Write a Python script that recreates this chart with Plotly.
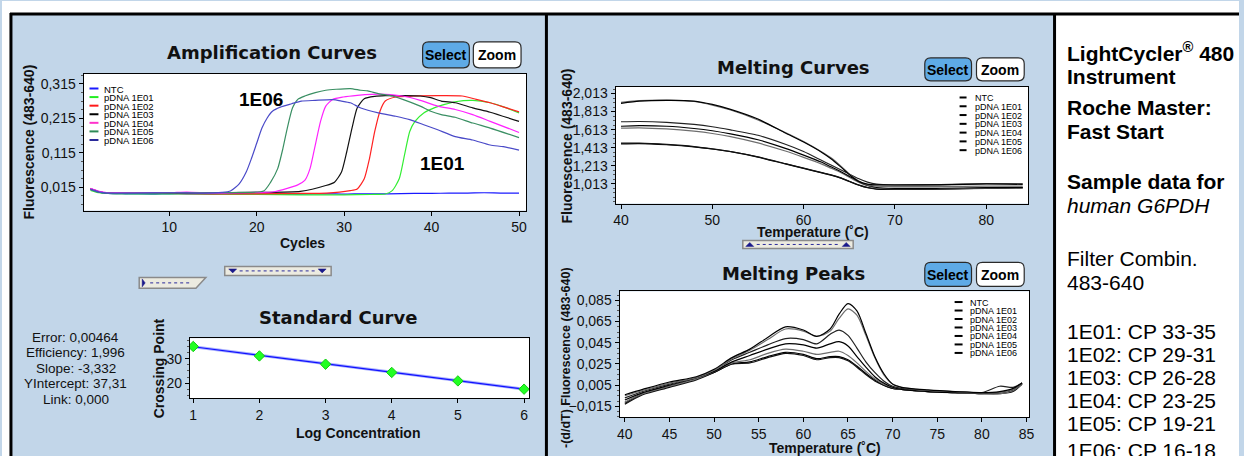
import plotly.graph_objects as go

W, H = 1244, 456

# ---------------- DATA ----------------
series_names = ["NTC", "pDNA 1E01", "pDNA 1E02", "pDNA 1E03", "pDNA 1E04", "pDNA 1E05", "pDNA 1E06"]
amp_colors = ["#1a1aff", "#22ee22", "#ff1a1a", "#000000", "#ff33cc", "#2e8b57", "#2a2a9a"]
amp_line_colors = ["#1a1aff", "#33ee33", "#ff2222", "#111111", "#ff22ff", "#3a8f63", "#4a4ac8"]

# Amplification curves (cycle, fluorescence)
amp_ntc_x = [1, 2, 3, 5, 8, 10, 12, 15, 18, 20, 22, 25, 28, 30, 32, 35, 38, 40, 42, 44, 46, 48, 50]
amp_ntc_y = [0.010, 0.001, -0.003, -0.004, -0.005, -0.004, -0.004, -0.005, -0.004, -0.005, -0.005,
             -0.005, -0.004, -0.005, -0.004, -0.004, -0.003, -0.003, -0.002, -0.002, -0.001, -0.002, -0.002]
amp_1e01_x = [1, 2, 3, 6, 10, 15, 20, 25, 30, 33, 34.7, 35.5, 36.3, 36.9, 37.5, 38.1, 39.1, 40.3, 41.5, 42.7, 44.7, 46.7, 48.3, 50]
amp_1e01_y = [0.006, -0.001, -0.003, -0.004, -0.004, -0.005, -0.006, -0.007, -0.007, -0.006, -0.0046, 0.0052,
              0.0395, 0.1081, 0.1768, 0.2062, 0.2307, 0.2454, 0.2552, 0.263, 0.267, 0.2601, 0.2474, 0.2307]
amp_1e02_x = [1, 2, 3, 6, 10, 15, 20, 25, 28, 30.7, 31.5, 32.3, 32.9, 33.5, 34.1, 34.7, 35.9, 37.9, 40.7, 43.5, 45.1, 46.7, 48.3, 50]
amp_1e02_y = [0.010, 0.002, -0.002, -0.003, -0.003, -0.004, -0.004, -0.003, -0.002, 0.0052, 0.0101, 0.0395,
              0.0983, 0.1768, 0.2356, 0.265, 0.2768, 0.2797, 0.2807, 0.2797, 0.27, 0.2601, 0.2474, 0.2336]
amp_1e03_x = [1, 2, 3, 6, 10, 15, 20, 25, 27.9, 28.9, 29.7, 30.3, 30.9, 31.5, 32.3, 33.5, 34.7, 36.7, 38.7, 39.9, 41.1, 42.7, 44.7, 46.7, 50]
amp_1e03_y = [0.011, 0.002, -0.002, -0.002, -0.002, -0.001, 0.000, 0.003, 0.0199, 0.0297, 0.0591, 0.118,
              0.1866, 0.2454, 0.2719, 0.2787, 0.2807, 0.2807, 0.2797, 0.2748, 0.265, 0.2601, 0.2454, 0.2326, 0.2062]
amp_1e04_x = [1, 2, 3, 6, 10, 12, 15, 20, 22, 24.7, 25.5, 26.1, 26.7, 27.3, 27.9, 28.7, 29.9, 31.5, 33.1, 34.7,
              36.7, 38.7, 40.7, 42.7, 44.7, 46.7, 50]
amp_1e04_y = [0.012, 0.003, -0.001, -0.001, -0.001, 0.001, -0.002, 0.000, 0.002, 0.0219, 0.0346, 0.0689,
              0.1375, 0.2062, 0.2503, 0.27, 0.2768, 0.2817, 0.2846, 0.2846, 0.2797, 0.267, 0.2503, 0.2405,
              0.2258, 0.2062, 0.1738]
amp_1e05_x = [1, 2, 3, 6, 10, 15, 18, 20.8, 21.6, 22.4, 23.0, 23.5, 24.1, 24.7, 25.5, 26.7, 27.9, 29.1, 30.7,
              31.9, 32.7, 33.9, 35.5, 36.7, 38.7, 39.9, 41.1, 42.7, 44.7, 46.7, 50]
amp_1e05_y = [0.008, 0.000, -0.003, -0.003, -0.002, -0.001, 0.000, 0.004, 0.0297, 0.0689, 0.1277, 0.1866,
              0.2454, 0.27, 0.2797, 0.2895, 0.2964, 0.2993, 0.3013, 0.2964, 0.2944, 0.2866, 0.2797, 0.27,
              0.2503, 0.2356, 0.2258, 0.218, 0.2013, 0.1866, 0.1591]
amp_1e06_x = [1, 2, 3, 6, 10, 14, 16, 17.0, 18.0, 18.8, 19.4, 20.0, 20.6, 21.2, 21.8, 22.7, 24.0, 25.1, 26.7,
              28.7, 29.7, 30.7, 31.9, 33.9, 35.9, 37.5, 39.1, 40.7, 42.7, 44.7, 46.7, 48.2, 50]
amp_1e06_y = [0.009, 0.001, -0.002, -0.002, -0.001, -0.002, 0.000, 0.004, 0.0248, 0.0591, 0.0983, 0.1425,
              0.1866, 0.216, 0.2356, 0.2474, 0.2572, 0.265, 0.267, 0.269, 0.265, 0.260, 0.245, 0.2307,
              0.2209, 0.211, 0.1964, 0.1817, 0.162, 0.152, 0.1375, 0.1326, 0.1228]

# Standard curve
log_conc = [1, 2, 3, 4, 5, 6]
crossing_point = [35.1, 31.2, 27.8, 24.4, 20.9, 17.5]
fit_x = [1, 6]
fit_y = [35.0, 17.5]
std_stats = ["Error: 0,00464", "Efficiency: 1,996", "Slope: -3,332", "YIntercept: 37,31", "Link: 0,000"]

# Melting curves (temperature, fluorescence)
melt_t = [40, 42, 45, 48, 50, 52, 55, 58, 60, 62, 63, 64, 65, 66, 67, 68, 70, 75, 80, 84]
melt_ntc = [1.455, 1.458, 1.445, 1.422, 1.398, 1.368, 1.308, 1.232, 1.182, 1.132, 1.107, 1.077, 1.037, 0.998, 0.968, 0.953, 0.948, 0.953, 0.960, 0.966]
melt_1e01 = [1.462, 1.462, 1.448, 1.425, 1.400, 1.370, 1.310, 1.235, 1.185, 1.135, 1.110, 1.080, 1.040, 1.000, 0.970, 0.955, 0.950, 0.955, 0.962, 0.968]
melt_1e02 = [1.630, 1.633, 1.620, 1.595, 1.570, 1.535, 1.465, 1.375, 1.305, 1.230, 1.185, 1.140, 1.085, 1.030, 0.990, 0.965, 0.957, 0.958, 0.963, 0.968]
melt_1e03 = [1.650, 1.657, 1.650, 1.625, 1.600, 1.565, 1.500, 1.405, 1.330, 1.250, 1.200, 1.150, 1.095, 1.040, 0.995, 0.970, 0.960, 0.962, 0.968, 0.972]
melt_1e04 = [1.700, 1.703, 1.693, 1.670, 1.645, 1.610, 1.550, 1.450, 1.370, 1.270, 1.220, 1.170, 1.120, 1.070, 1.030, 1.008, 1.000, 1.002, 1.012, 1.012]
melt_1e05 = [1.915, 1.935, 1.940, 1.925, 1.885, 1.830, 1.720, 1.580, 1.480, 1.365, 1.300, 1.215, 1.120, 1.045, 1.000, 0.985, 0.980, 0.980, 0.985, 0.985]
melt_1e06 = [1.905, 1.928, 1.937, 1.930, 1.893, 1.838, 1.730, 1.575, 1.475, 1.360, 1.290, 1.205, 1.115, 1.040, 1.008, 1.000, 0.998, 1.000, 1.010, 1.005]

# Melting peaks (temperature, -d/dT)
peak_t = [40, 42, 45, 48, 50, 52, 54, 56, 58, 60, 61.5, 63, 64, 65, 66, 67, 68, 69, 70, 71, 74, 77, 80, 82, 83.5, 84.5]
peak_ntc = [-0.012, -0.003, 0.004, 0.011, 0.017, 0.025, 0.027, 0.032, 0.036, 0.034, 0.030, 0.032, 0.032, 0.029, 0.023, 0.016, 0.010, 0.005, 0.002, 0.001, -0.001, -0.002, -0.003, -0.002, 0.000, 0.006]
peak_1e01 = [-0.013, -0.004, 0.003, 0.010, 0.017, 0.025, 0.026, 0.031, 0.035, 0.033, 0.029, 0.031, 0.031, 0.028, 0.022, 0.015, 0.009, 0.005, 0.002, 0.001, -0.001, -0.002, -0.003, -0.003, -0.001, 0.006]
peak_1e02 = [-0.011, -0.003, 0.004, 0.011, 0.018, 0.026, 0.029, 0.035, 0.039, 0.037, 0.034, 0.036, 0.037, 0.033, 0.026, 0.018, 0.011, 0.006, 0.003, 0.001, -0.001, -0.002, -0.003, -0.003, 0.000, 0.006]
peak_1e03 = [-0.009, -0.002, 0.005, 0.012, 0.018, 0.027, 0.033, 0.039, 0.044, 0.043, 0.040, 0.044, 0.046, 0.042, 0.032, 0.022, 0.013, 0.007, 0.003, 0.001, -0.001, -0.002, -0.002, -0.002, 0.001, 0.007]
peak_1e04 = [-0.007, -0.001, 0.006, 0.012, 0.019, 0.029, 0.036, 0.043, 0.049, 0.048, 0.044, 0.053, 0.057, 0.052, 0.040, 0.027, 0.017, 0.009, 0.004, 0.002, 0.000, -0.001, -0.002, 0.004, 0.003, 0.007]
peak_1e05 = [-0.005, 0.000, 0.007, 0.012, 0.019, 0.030, 0.038, 0.048, 0.058, 0.056, 0.051, 0.056, 0.068, 0.077, 0.071, 0.052, 0.031, 0.015, 0.006, 0.003, 0.000, -0.001, -0.002, -0.002, 0.001, 0.007]
peak_1e06 = [-0.004, 0.001, 0.008, 0.013, 0.020, 0.031, 0.039, 0.050, 0.060, 0.057, 0.051, 0.058, 0.072, 0.082, 0.075, 0.054, 0.032, 0.016, 0.006, 0.003, 0.0005, -0.001, -0.002, -0.001, 0.002, 0.007]
melt_colors = ["#000000", "#111111", "#6e6e6e", "#000000", "#222222", "#6e6e6e", "#000000"]

info_lines = [
    ("<b>LightCycler<sup>®</sup> 480</b>", 51), ("<b>Instrument</b>", 76),
    ("<b>Roche Master:</b>", 107), ("<b>Fast Start</b>", 131),
    ("<b>Sample data for</b>", 181), ("<i>human G6PDH</i>", 205),
    ("Filter Combin.", 258), ("483-640", 282),
    ("1E01: CP 33-35", 331), ("1E02: CP 29-31", 354), ("1E03: CP 26-28", 377),
    ("1E04: CP 23-25", 400), ("1E05: CP 19-21", 423), ("1E06: CP 16-18", 450),
]

# ---------------- HELPERS ----------------
def X(p):
    return p / W

def Y(p):
    return 1 - p / H

PANEL = "#c2d6e9"
TICKFONT = dict(family="Liberation Sans Narrow, Arial Narrow, Liberation Sans, sans-serif", size=14, color="#111")
TITLEFONT = dict(family="DejaVu Sans, sans-serif", size=18, color="#111")
AXTITLEFONT = dict(family="Liberation Sans, Arial, sans-serif", size=14, color="#111")

fig = go.Figure()

# Amplification traces
amp_x = [amp_ntc_x, amp_1e01_x, amp_1e02_x, amp_1e03_x, amp_1e04_x, amp_1e05_x, amp_1e06_x]
amp_y = [amp_ntc_y, amp_1e01_y, amp_1e02_y, amp_1e03_y, amp_1e04_y, amp_1e05_y, amp_1e06_y]
for name, xs, ys, c in zip(series_names, amp_x, amp_y, amp_line_colors):
    fig.add_trace(go.Scatter(x=xs, y=ys, mode="lines", name=name, line=dict(color=c, width=1.2, shape="spline", smoothing=0.6),
                             xaxis="x", yaxis="y", showlegend=False))

# Standard curve
fig.add_trace(go.Scatter(x=fit_x, y=fit_y, mode="lines", line=dict(color="#a9b0ff", width=3), xaxis="x2", yaxis="y2", showlegend=False))
fig.add_trace(go.Scatter(x=fit_x, y=fit_y, mode="lines", line=dict(color="#1010ff", width=1.2), xaxis="x2", yaxis="y2", showlegend=False))
fig.add_trace(go.Scatter(x=log_conc, y=crossing_point, mode="markers",
                         marker=dict(symbol="diamond", size=8, color="#22ff22", line=dict(color="#11cc11", width=1)),
                         xaxis="x2", yaxis="y2", showlegend=False))

# Melting curves
melt_series = [melt_ntc, melt_1e01, melt_1e02, melt_1e03, melt_1e04, melt_1e05, melt_1e06]
for name, ys, c in zip(series_names, melt_series, melt_colors):
    fig.add_trace(go.Scatter(x=melt_t, y=ys, mode="lines", name=name, line=dict(color=c, width=1.2, shape="spline", smoothing=0.6),
                             xaxis="x3", yaxis="y3", showlegend=False))

# Melting peaks
peak_series = [peak_ntc, peak_1e01, peak_1e02, peak_1e03, peak_1e04, peak_1e05, peak_1e06]
for name, ys, c in zip(series_names, peak_series, melt_colors):
    fig.add_trace(go.Scatter(x=peak_t, y=ys, mode="lines", name=name, line=dict(color=c, width=1.2, shape="spline", smoothing=0.8),
                             xaxis="x4", yaxis="y4", showlegend=False))

axis_common = dict(showline=True, linecolor="#000", linewidth=1, mirror=True, ticks="outside", ticklen=4,
                   tickcolor="#000", tickfont=TICKFONT, showgrid=False, zeroline=False, fixedrange=True)

layout = dict(
    width=W, height=H, autosize=False, margin=dict(l=0, r=0, t=0, b=0),
    paper_bgcolor=PANEL, plot_bgcolor="#ffffff", separators=",.",
    showlegend=False,
    xaxis=dict(domain=[X(82), X(527)], range=[0.2, 50.8], tickvals=[10, 20, 30, 40, 50], anchor="y", **axis_common),
    yaxis=dict(domain=[Y(210), Y(73)], range=[-0.0526, 0.344], tickvals=[0.015, 0.115, 0.215, 0.315], tickformat=".3f",
               minor=dict(ticks="outside", ticklen=2, tick0=0.015, dtick=0.025, tickcolor="#555"), anchor="x", **axis_common),
    xaxis2=dict(domain=[X(189), X(530)], range=[0.95, 6.075], tickvals=[1, 2, 3, 4, 5, 6], anchor="y2", **axis_common),
    yaxis2=dict(domain=[Y(398), Y(338)], range=[13.8, 38.5], tickvals=[20, 30],
                minor=dict(ticks="outside", ticklen=2, tick0=20, dtick=2.5, tickcolor="#555"), anchor="x2", **axis_common),
    xaxis3=dict(domain=[X(617), X(1032)], range=[39.4, 84.6], tickvals=[40, 50, 60, 70, 80], anchor="y3", **axis_common),
    yaxis3=dict(domain=[Y(203), Y(86)], range=[0.792, 2.088], tickvals=[1.013, 1.213, 1.413, 1.613, 1.813, 2.013], tickformat=".3f",
                minor=dict(ticks="outside", ticklen=2, tick0=1.013, dtick=0.05, tickcolor="#555"), anchor="x3", **axis_common),
    xaxis4=dict(domain=[X(621), X(1033)], range=[39.4, 85.3], tickvals=[40, 45, 50, 55, 60, 65, 70, 75, 80, 85], anchor="y4", **axis_common),
    yaxis4=dict(domain=[Y(417), Y(291)], range=[-0.0251, 0.0935], tickvals=[-0.015, 0.005, 0.025, 0.045, 0.065, 0.085], tickformat=".3f",
                minor=dict(ticks="outside", ticklen=2, tick0=-0.015, dtick=0.005, tickcolor="#555"), anchor="x4", **axis_common),
)
fig.update_layout(**layout)

shapes = []
annotations = []

def rect(x0, y0, x1, y1, fill, line=None, lw=0):
    shapes.append(dict(type="rect", xref="paper", yref="paper", x0=X(x0), x1=X(x1), y0=Y(y1), y1=Y(y0),
                       fillcolor=fill, line=dict(color=line or fill, width=lw), layer="below"))

def hline(x0, x1, y, color="#000", w=3):
    shapes.append(dict(type="line", xref="paper", yref="paper", x0=X(x0), x1=X(x1), y0=Y(y), y1=Y(y), line=dict(color=color, width=w)))

def vline(x, y0, y1, color="#000", w=3):
    shapes.append(dict(type="line", xref="paper", yref="paper", x0=X(x), x1=X(x), y0=Y(y0), y1=Y(y1), line=dict(color=color, width=w)))

def text(x, y, s, font, xanchor="center", textangle=0):
    annotations.append(dict(x=X(x), y=Y(y), xref="paper", yref="paper", text=s, showarrow=False, font=font,
                            xanchor=xanchor, yanchor="middle", textangle=textangle))

def path_of(pts):
    return "M " + " L ".join(f"{X(a):.5f},{Y(b):.5f}" for a, b in pts) + " Z"

def rrect_path(x0, y0, x1, y1, r):
    def P(a, b):
        return f"{X(a):.5f},{Y(b):.5f}"
    return (f"M {P(x0 + r, y0)} L {P(x1 - r, y0)} Q {P(x1, y0)} {P(x1, y0 + r)} L {P(x1, y1 - r)} "
            f"Q {P(x1, y1)} {P(x1 - r, y1)} L {P(x0 + r, y1)} Q {P(x0, y1)} {P(x0, y1 - r)} L {P(x0, y0 + r)} "
            f"Q {P(x0, y0)} {P(x0 + r, y0)} Z")

def button(x0, y0, x1, y1, label, fill):
    shapes.append(dict(type="path", xref="paper", yref="paper", path=rrect_path(x0, y0, x1, y1, 6),
                       fillcolor=fill, line=dict(color="#2a2a2a", width=1.2)))
    text((x0 + x1) / 2, (y0 + y1) / 2 + 0.5, f"<b>{label}</b>",
         dict(family="Liberation Sans Narrow, Arial Narrow, Liberation Sans, sans-serif", size=14, color="#000"))

def slider(x0, y0, x1, y1, arrows, slant=False):
    if slant:
        pts = [(x0, y0), (x1, y0), (x1 - 10, y1), (x0, y1)]
    else:
        pts = [(x0, y0), (x1, y0), (x1, y1), (x0, y1)]
    shapes.append(dict(type="path", xref="paper", yref="paper", path=path_of(pts), fillcolor="#ecebe0",
                       line=dict(color="#8a8a8a", width=1.5)))
    ym = (y0 + y1) / 2
    for ax, kind in arrows:
        if kind == "down":
            tri = [(ax - 4, ym - 2), (ax + 4, ym - 2), (ax, ym + 2)]
        elif kind == "up":
            tri = [(ax - 4, ym + 2), (ax + 4, ym + 2), (ax, ym - 2)]
        else:
            tri = [(ax - 1, ym - 4), (ax + 2, ym), (ax - 1, ym + 4)]
        shapes.append(dict(type="path", xref="paper", yref="paper", path=path_of(tri), fillcolor="#1a1a8a",
                           line=dict(color="#1a1a8a", width=0.5)))
    xa = arrows[0][0] + 7
    xb = (arrows[-1][0] - 7) if len(arrows) > 1 else (x1 - 16)
    shapes.append(dict(type="line", xref="paper", yref="paper", x0=X(xa), x1=X(xb), y0=Y(ym), y1=Y(ym),
                       line=dict(color="#2a2a9a", width=1, dash="dot")))

# white surroundings and right info panel
rect(0, 0, W, 12, "#ffffff")
rect(0, 0, 8, H, "#ffffff")
rect(1059, 12, W, H, "#ffffff")

# panel borders
hline(8, W, 13, w=3)
vline(9, 12, H, w=3)
vline(547.5, 12, H, w=3)
vline(1058.5, 12, H, w=3)

# ----- Amplification panel -----
text(272, 52, "<b>Amplification Curves</b>", TITLEFONT)
button(423, 41, 470, 67, "Select", "#5eaae6")
button(474, 41, 522, 67, "Zoom", "#ffffff")
text(302, 243, "<b>Cycles</b>", AXTITLEFONT)
text(27, 141, "<b>Fluorescence (483-640)</b>", AXTITLEFONT, textangle=-90)
annotations.append(dict(x=20.5, y=0.2685, xref="x", yref="y", text="<b>1E06</b>", showarrow=False,
                        font=dict(family="Liberation Sans, Arial, sans-serif", size=19, color="#000")))
annotations.append(dict(x=41.2, y=0.084, xref="x", yref="y", text="<b>1E01</b>", showarrow=False,
                        font=dict(family="Liberation Sans, Arial, sans-serif", size=19, color="#000")))
leg_font_amp = dict(family="Liberation Sans, Arial, sans-serif", size=9.5, color="#000")
for i, (nm, c) in enumerate(zip(series_names, amp_colors)):
    yy = 87.7 + i * 8.6
    shapes.append(dict(type="line", xref="paper", yref="paper", x0=X(88), x1=X(97), y0=Y(yy), y1=Y(yy), line=dict(color=c, width=2)))
    text(101, yy + 0.5, nm, leg_font_amp, xanchor="left")

# sliders
slider(138, 277, 205, 288, [(142, "right")], slant=True)
slider(224, 266, 331, 275, [(232, "down"), (322, "down")])

# ----- Standard curve panel -----
text(338, 317, "<b>Standard Curve</b>", TITLEFONT)
text(358, 433, "<b>Log Concentration</b>", AXTITLEFONT)
text(158, 368, "<b>Crossing Point</b>", AXTITLEFONT, textangle=-90)
stat_font = dict(family="Liberation Sans Narrow, Arial Narrow, Liberation Sans, sans-serif", size=13.5, color="#111")
for i, s in enumerate(std_stats):
    text(74, 337 + i * 15.6, s, stat_font)

# ----- Melting curves panel -----
text(796, 67, "<b>Melting Curves</b>", TITLEFONT)
button(928, 57, 975, 80, "Select", "#5eaae6")
button(980, 57, 1028, 80, "Zoom", "#ffffff")
text(816, 232, "<b>Temperature (˚C)</b>", AXTITLEFONT)
text(568, 145, "<b>Fluorescence (483-640)</b>", AXTITLEFONT, textangle=-90)
leg_font_m = dict(family="Liberation Sans, Arial, sans-serif", size=9, color="#000")
for i, (nm, c) in enumerate(zip(series_names, melt_colors)):
    yy = 96.7 + i * 8.8
    shapes.append(dict(type="line", xref="paper", yref="paper", x0=X(963), x1=X(970), y0=Y(yy), y1=Y(yy), line=dict(color="#000", width=2)))
    text(976, yy + 0.5, nm, leg_font_m, xanchor="left")

slider(745, 240, 856, 248, [(752, "up"), (849, "up")])

# ----- Melting peaks panel -----
text(796, 273, "<b>Melting Peaks</b>", TITLEFONT)
button(928, 262, 975, 286, "Select", "#5eaae6")
button(980, 262, 1028, 286, "Zoom", "#ffffff")
text(828, 448, "<b>Temperature (˚C)</b>", AXTITLEFONT)
text(567, 357, "<b>-(d/dT) Fluorescence (483-640)</b>", dict(family="Liberation Sans, Arial, sans-serif", size=12.5, color="#111"), textangle=-90)
for i, (nm, c) in enumerate(zip(series_names, melt_colors)):
    yy = 301.7 + i * 8.5
    shapes.append(dict(type="line", xref="paper", yref="paper", x0=X(958), x1=X(966), y0=Y(yy), y1=Y(yy), line=dict(color="#000", width=2)))
    text(971, yy + 0.5, nm, leg_font_m, xanchor="left")

# ----- Right info panel -----
info_font = dict(family="Liberation Sans, Arial, sans-serif", size=21, color="#000")
for s, yy in info_lines:
    text(1069, yy, s, info_font, xanchor="left")

fig.update_layout(shapes=shapes, annotations=annotations)
fig.write_html("out.html", config={"displayModeBar": False, "staticPlot": True},
               post_script="document.body.style.margin='0';document.body.style.overflow='hidden';")
